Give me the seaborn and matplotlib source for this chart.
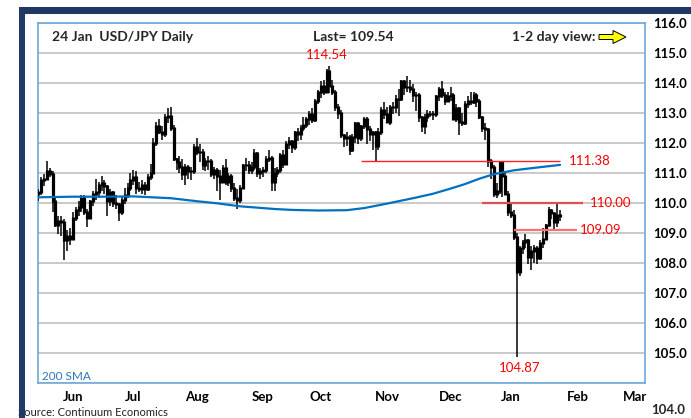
import matplotlib
matplotlib.use("Agg")
import matplotlib.pyplot as plt
import seaborn as sns
import pandas as pd
import numpy as np
from matplotlib.patches import Rectangle, Polygon

# ---------------- data ----------------
start_date = "2018-05-16"
end_date = "2019-01-24"

opens = [110.30, 110.35, 110.75, 110.80, 111.05, 110.95, 110.05, 109.25, 109.40, 109.35, 108.75, 108.90,
         108.80, 109.50, 109.75, 109.85, 110.15, 109.70, 109.50, 110.05, 110.30, 110.35, 110.60, 110.65,
         110.55, 110.05, 110.35, 110.00, 109.95, 109.70, 110.10, 110.25, 110.50,
         110.75, 110.85, 110.50, 110.45, 110.60, 110.45, 110.85, 111.00, 112.00, 112.55, 112.35, 112.30,
         112.85, 112.90, 112.50, 111.45, 111.35, 111.20, 110.95, 111.20, 111.05, 111.05,
         111.85, 111.70, 111.70, 111.25, 111.40, 111.40, 110.95, 111.10, 110.90, 110.70, 111.15, 110.70,
         110.90, 110.50, 110.15, 110.10, 110.50, 111.25, 111.25, 111.10, 111.20, 111.65, 111.00,
         111.05, 111.10, 111.45, 111.50, 110.70, 111.00, 111.10, 111.60, 111.30, 111.95, 112.05, 111.85,
         112.35, 112.30, 112.50, 112.60, 112.80, 112.95, 112.75, 113.40,
         113.70, 113.90, 113.70, 114.40, 113.90, 113.70, 113.20, 113.00, 112.25, 112.15, 112.20, 111.75,
         112.20, 112.65, 112.15, 112.55, 112.80, 112.45, 112.30, 112.35, 111.90, 112.35, 113.10,
         112.95, 112.70, 113.20, 113.20, 113.45, 113.45, 114.05, 113.85, 113.85, 113.80, 113.60, 113.60,
         112.85, 112.55, 112.85, 112.95, 112.95, 112.95, 113.55, 113.80, 113.60, 113.40,
         113.55, 113.60, 112.80, 113.15, 112.70, 112.65, 113.30, 113.40, 113.35, 113.60, 113.40, 112.85,
         112.50, 112.45, 111.40, 111.20, 110.30, 110.40, 111.35, 110.90, 110.30,
         109.70, 109.60, 108.85, 107.70, 108.50, 108.70, 108.75, 108.20, 108.40, 108.50, 108.15, 108.65,
         108.80, 109.25, 109.75, 109.65, 109.35, 109.60]
highs = [110.45, 110.85, 110.95, 111.40, 111.15, 111.05, 110.15, 109.55, 109.55, 109.45, 109.10, 109.15,
         109.70, 109.85, 110.05, 110.25, 110.25, 109.80, 110.10, 110.40, 110.80, 110.70, 110.90, 110.75,
         110.60, 110.45, 110.40, 110.25, 110.00, 110.20, 110.50, 110.65, 111.00,
         111.10, 111.05, 110.70, 110.75, 110.70, 110.95, 111.30, 112.15, 112.70, 112.80, 112.55, 112.95,
         113.15, 113.18, 112.60, 111.50, 111.55, 111.45, 111.30, 111.25, 111.20, 111.95,
         112.15, 111.95, 111.80, 111.50, 111.55, 111.45, 111.20, 111.15, 111.10, 111.25, 111.45, 111.00,
         110.95, 110.65, 110.45, 110.60, 111.30, 111.50, 111.40, 111.35, 111.80, 111.70, 111.15,
         111.20, 111.55, 111.75, 111.55, 111.15, 111.20, 111.65, 111.75, 112.05, 112.20, 112.10, 112.40,
         112.50, 112.60, 112.85, 112.85, 113.05, 113.15, 113.45, 113.75,
         114.05, 114.10, 114.45, 114.54, 114.10, 113.75, 113.30, 113.10, 112.30, 112.35, 112.25, 112.30,
         112.70, 112.70, 112.60, 112.85, 112.85, 112.55, 112.40, 112.40, 112.50, 113.20, 113.35,
         113.20, 113.25, 113.35, 113.60, 113.80, 114.10, 114.10, 114.22, 114.10, 113.95, 113.70, 113.65,
         112.90, 112.95, 113.10, 113.05, 113.05, 113.60, 113.85, 114.05, 113.70, 113.70,
         113.85, 113.65, 113.30, 113.20, 113.00, 113.40, 113.55, 113.70, 113.70, 113.65, 113.45, 112.90,
         112.65, 112.50, 111.45, 111.25, 110.65, 111.38, 111.40, 111.00, 110.40,
         109.95, 109.75, 109.00, 108.55, 108.75, 108.95, 108.80, 108.55, 108.60, 108.55, 108.75, 109.15,
         109.30, 109.85, 109.80, 109.70, 110.00, 109.75]
lows = [110.05, 110.25, 110.55, 110.80, 110.85, 109.70, 109.20, 108.95, 108.90, 108.10, 108.40, 108.60,
        108.75, 109.40, 109.55, 109.70, 109.60, 109.20, 109.45, 109.90, 110.10, 110.15, 110.40, 110.30,
        109.55, 109.90, 109.85, 109.80, 109.40, 109.60, 109.95, 110.15, 110.40,
        110.60, 110.30, 110.35, 110.30, 110.25, 110.40, 110.75, 110.95, 111.90, 112.30, 112.10, 112.20,
        112.65, 112.40, 111.40, 111.10, 111.00, 110.75, 110.60, 110.80, 110.75, 110.95,
        111.60, 111.35, 111.10, 111.05, 111.10, 110.85, 110.80, 110.40, 110.10, 110.65, 110.60, 110.55,
        110.35, 110.05, 109.80, 110.00, 110.45, 111.05, 110.95, 110.95, 111.10, 110.85, 110.80,
        110.85, 111.00, 111.35, 110.40, 110.40, 110.85, 111.00, 111.15, 111.25, 111.80, 111.65, 111.75,
        112.05, 112.10, 112.40, 112.50, 112.60, 112.65, 112.70, 113.30,
        113.50, 113.60, 113.65, 113.65, 113.60, 113.05, 112.80, 112.15, 111.85, 111.90, 111.60, 111.70,
        112.00, 111.95, 112.05, 112.45, 111.95, 112.05, 111.75, 111.38, 111.75, 112.25, 112.80,
        112.65, 112.60, 112.95, 113.00, 112.90, 113.40, 113.60, 113.70, 113.65, 113.35, 113.05, 112.70,
        112.35, 112.30, 112.70, 112.85, 112.75, 112.85, 113.40, 113.50, 113.25, 113.35,
        113.40, 112.75, 112.70, 112.25, 112.55, 112.60, 113.15, 113.25, 113.30, 113.20, 112.80, 112.35,
        112.10, 111.20, 110.80, 110.20, 110.15, 110.30, 110.20, 110.25, 109.55,
        109.50, 108.75, 104.87, 107.55, 108.30, 108.50, 107.95, 107.77, 108.00, 107.95, 108.10, 108.50,
        108.75, 109.20, 109.45, 109.10, 109.20, 109.40]
closes = [110.35, 110.75, 110.80, 111.05, 110.95, 110.05, 109.25, 109.40, 109.35, 108.75, 108.90, 108.80,
          109.50, 109.75, 109.85, 110.15, 109.70, 109.50, 110.05, 110.30, 110.35, 110.60, 110.65, 110.55,
          110.05, 110.35, 110.00, 109.95, 109.70, 110.10, 110.25, 110.50, 110.75,
          110.85, 110.50, 110.45, 110.60, 110.45, 110.85, 111.00, 112.00, 112.55, 112.35, 112.30, 112.85,
          112.90, 112.50, 111.45, 111.35, 111.20, 110.95, 111.20, 111.05, 111.05, 111.85,
          111.70, 111.70, 111.25, 111.40, 111.40, 110.95, 111.10, 110.90, 110.70, 111.15, 110.70, 110.90,
          110.50, 110.15, 110.10, 110.50, 111.25, 111.25, 111.10, 111.20, 111.65, 111.00, 111.05,
          111.10, 111.45, 111.50, 110.70, 111.00, 111.10, 111.60, 111.30, 111.95, 112.05, 111.85, 112.35,
          112.30, 112.50, 112.60, 112.80, 112.95, 112.75, 113.40, 113.70,
          113.90, 113.70, 114.40, 113.90, 113.70, 113.20, 113.00, 112.25, 112.15, 112.20, 111.75, 112.20,
          112.65, 112.15, 112.55, 112.80, 112.45, 112.30, 112.35, 111.90, 112.35, 113.10, 112.95,
          112.70, 113.20, 113.20, 113.45, 113.45, 114.05, 113.85, 113.85, 113.80, 113.60, 113.60, 112.85,
          112.55, 112.85, 112.95, 112.95, 112.95, 113.55, 113.80, 113.60, 113.40, 113.55,
          113.60, 112.80, 113.15, 112.70, 112.65, 113.30, 113.40, 113.35, 113.60, 113.40, 112.85, 112.50,
          112.45, 111.40, 111.20, 110.30, 110.40, 111.35, 110.90, 110.30, 109.70,
          109.60, 108.85, 107.70, 108.50, 108.70, 108.75, 108.20, 108.40, 108.50, 108.15, 108.65, 108.80,
          109.25, 109.75, 109.65, 109.35, 109.60, 109.54]

sma_dates = ["2018-05-16", "2018-06-01", "2018-06-15", "2018-07-02", "2018-07-19", "2018-08-01",
             "2018-08-10", "2018-08-22", "2018-09-07", "2018-09-17", "2018-09-28", "2018-10-12",
             "2018-10-22", "2018-11-01", "2018-11-08", "2018-11-15", "2018-11-23", "2018-12-03",
             "2018-12-10", "2018-12-17", "2018-12-24", "2019-01-02", "2019-01-10", "2019-01-24"]
sma_values = [110.18, 110.20, 110.20, 110.21, 110.15, 110.05, 109.98, 109.88, 109.79, 109.76, 109.74,
              109.75, 109.82, 109.97, 110.07, 110.17, 110.30, 110.47, 110.62, 110.80, 110.95, 111.08,
              111.15, 111.26]

level_values = [111.38, 110.00, 109.09]
level_labels = ["111.38", "110.00", "109.09"]
level_starts = ["2018-10-19", "2018-12-18", "2019-01-02"]
level_ends = ["2019-01-24", "2019-02-05", "2019-02-01"]

peak_value, peak_date = 114.54, "2018-10-04"
low_value, low_date = 104.87, "2019-01-03"

month_labels = ["Jun", "Jul", "Aug", "Sep", "Oct", "Nov", "Dec", "Jan", "Feb", "Mar"]
month_starts = ["2018-06-01", "2018-07-02", "2018-08-01", "2018-09-03", "2018-10-01", "2018-11-01",
                "2018-12-03", "2019-01-01", "2019-02-01", "2019-03-01"]
y_ticks = [104, 105, 106, 107, 108, 109, 110, 111, 112, 113, 114, 115, 116]

# ---------------- setup ----------------
sns.set_theme(style="white")
plt.rcParams["font.family"] = ["Lato", "DejaVu Sans"]

W, H = 691, 418
fig = plt.figure(figsize=(W / 100, H / 100), dpi=100)
fig.patch.set_facecolor("white")

def fx(x):
    return x / W

def fy(y):
    return 1 - y / H

ax_l, ax_r, ax_t, ax_b = 38, 645, 22.7, 382.7
ax = fig.add_axes([fx(ax_l), fy(ax_b), (ax_r - ax_l) / W, (ax_b - ax_t) / H])

axis_days = pd.bdate_range(start_date, "2019-03-15")
def pos(d):
    return axis_days.get_indexer(pd.to_datetime(d))

xs = np.arange(len(closes))
o = np.array(opens); c = np.array(closes)
ax.vlines(xs, lows, highs, color="black", lw=1.1, zorder=3)
ax.vlines(xs, np.minimum(o, c) - 0.03, np.maximum(o, c) + 0.03, color="black", lw=2.3, zorder=3)

sns.lineplot(x=pos(sma_dates), y=sma_values, ax=ax, color="#0070C0", lw=1.6, zorder=4)

level_colors = ["#FF2020", "#E05050", "#FF7070"]
level_lw = [1.0, 1.6, 1.6]
text_gap = [6, 5, 2]
for v, lab, s, e, col, lw, g in zip(level_values, level_labels, level_starts, level_ends,
                                    level_colors, level_lw, text_gap):
    x0, x1 = pos([s, e])
    ax.hlines(v, x0, x1, color=col, lw=lw, zorder=5)
    ax.annotate(lab, xy=(x1, v), xytext=(g, 0), textcoords="offset points",
                color="#FF0000", fontsize=9.5, va="center", ha="left", zorder=6)

ax.annotate(f"{peak_value:.2f}", xy=(pos([peak_date])[0], peak_value), xytext=(-2, 4),
            textcoords="offset points", color="#FF0000", fontsize=9.5, ha="center", va="bottom")
ax.annotate(f"{low_value:.2f}", xy=(pos([low_date])[0], low_value), xytext=(2, -4),
            textcoords="offset points", color="#FF0000", fontsize=9.5, ha="center", va="top")

ax.set_xlim(-0.05, 210.45)
ax.set_ylim(104, 116)
ax.set_yticks(y_ticks)
ax.set_yticklabels([f"{t:.1f}" if t != 104 else "" for t in y_ticks], fontweight="bold", fontsize=9.5)
ax.yaxis.tick_right()
ax.tick_params(axis="y", length=0, pad=6, colors="black")
ax.yaxis.grid(True, color="#C0C0C0", lw=1.2)
ax.xaxis.grid(False)
ax.set_xticks(pos(month_starts))
ax.set_xticklabels(month_labels, fontweight="bold", fontsize=9.5)
ax.tick_params(axis="x", length=0, pad=6, colors="black")
ax.annotate("104.0", xy=(1, 104), xycoords=("axes fraction", "data"), xytext=(6, -27.5),
            textcoords="offset pixels", fontweight="bold", fontsize=9.5, va="center", ha="left",
            annotation_clip=False)
for sp in ax.spines.values():
    sp.set_color("#6FA8DC")
    sp.set_linewidth(1.2)
ax.set_xlabel(""); ax.set_ylabel("")

# header texts
fig.text(fx(52), fy(37), "24 Jan  USD/JPY Daily", fontweight="bold", fontsize=10, va="center", ha="left")
fig.text(fx(353), fy(37), "Last= 109.54", fontweight="bold", fontsize=10, va="center", ha="center")
fig.text(fx(595), fy(37), "1-2 day view:", fontweight="bold", fontsize=10, va="center", ha="right")
arrow = [(599, 34.5), (613, 34.5), (613, 30.5), (626, 37), (613, 43.5), (613, 39.5), (599, 39.5)]
fig.patches.append(Polygon([(fx(a), fy(b)) for a, b in arrow], closed=True, transform=fig.transFigure,
                           facecolor="#FFFF00", edgecolor="black", lw=0.7, figure=fig))

fig.text(fx(42), fy(376), "200 SMA", color="#2E75B6", fontsize=8.5, va="center", ha="left")
fig.text(fx(18.5), fy(412), "Source: Continuum Economics", color="#222222", fontsize=8,
         va="center", ha="left", zorder=1)

# navy frame
navy = "#1F3864"
fig.patches.append(Rectangle((fx(19), fy(14)), (W - 19) / W, 7 / H, transform=fig.transFigure,
                             facecolor=navy, edgecolor="none", zorder=10, figure=fig))
fig.patches.append(Rectangle((fx(19), 0), 6 / W, (H - 7) / H, transform=fig.transFigure,
                             facecolor=navy, edgecolor="none", zorder=10, figure=fig))

fig.savefig("out.png", dpi=100)
